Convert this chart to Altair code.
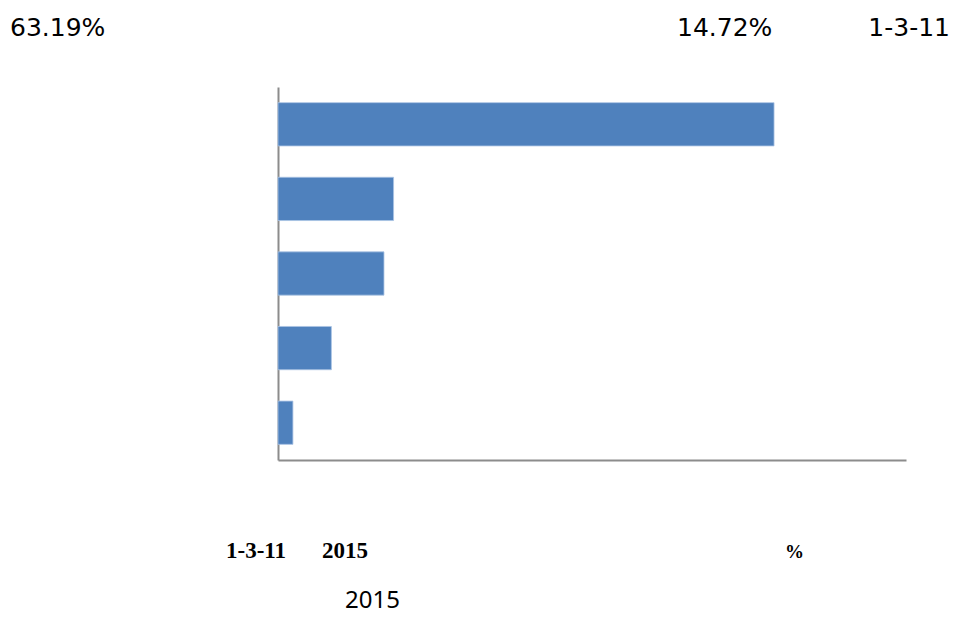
import altair as alt
import pandas as pd

categories = ["c1", "c2", "c3", "c4", "c5"]
shares = [63.19, 14.72, 13.5, 6.8, 1.9]

top_left_label = "63.19%"
top_mid_label = "14.72%"
top_right_label = "1-3-11"
bottom_label_a = "1-3-11"
bottom_label_b = "2015"
bottom_unit = "%"
bottom_year = "2015"

df = pd.DataFrame({"cat": categories, "share": shares})

W, H = 628, 373

bars = alt.Chart(df).mark_bar(color="#4F81BD", stroke="#A9C3E3", strokeWidth=0.8).encode(
    x=alt.X("share:Q", scale=alt.Scale(domain=[0, 80], nice=False),
            axis=alt.Axis(labels=False, ticks=False, grid=False, title=None,
                          domainColor="#8C8C8C", domainWidth=2)),
    y=alt.Y("cat:N", sort=None,
            scale=alt.Scale(paddingInner=0.42, paddingOuter=0.21),
            axis=alt.Axis(labels=False, ticks=False, grid=False, title=None,
                          domainColor="#8C8C8C", domainWidth=2)),
)

one = alt.Data(values=[{"k": 1}])

def txt(s, x, y, size, font, weight="normal", align="left"):
    return alt.Chart(one).mark_text(
        text=s, x=x, y=y, fontSize=size, font=font, fontWeight=weight,
        align=align, baseline="alphabetic", color="#000000"
    ).encode(opacity=alt.value(1))

sans = "Noto Sans"
top_sans = "DejaVu Sans"
serif = "Liberation Serif"

layers = [
    bars,
    txt(top_left_label, -268, -51, 25, top_sans),
    txt(top_mid_label, 399, -51, 25, top_sans),
    txt(top_right_label, 672, -51, 25, top_sans, align="right"),
    txt(bottom_label_a, -52, 471, 23, serif, "bold"),
    txt(bottom_label_b, 44, 471, 23, serif, "bold"),
    txt(bottom_unit, 507, 471, 19, serif, "bold"),
    txt(bottom_year, 67, 521, 24, sans),
]

chart = alt.layer(*layers).properties(
    width=W, height=H,
    autosize="none",
    padding={"left": 270, "top": 79, "right": 45, "bottom": 157},
).configure_view(stroke=None)

chart.save("out.html", embed_options={"renderer": "svg", "actions": False})
